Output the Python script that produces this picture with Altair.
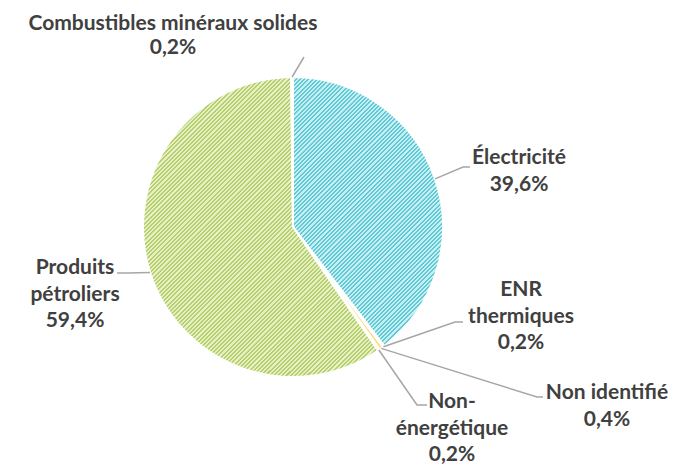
import math
import altair as alt
import pandas as pd

# ---- data -------------------------------------------------------------
categories = ["Électricité", "ENR thermiques", "Non identifié", "Non-énergétique",
              "Produits pétroliers", "Combustibles minéraux solides"]
values = [39.6, 0.2, 0.4, 0.2, 59.4, 0.2]
label_text = ["Électricité", "ENR\nthermiques", "Non identifié", "Non-\nénergétique",
              "Produits\npétroliers", "Combustibles minéraux solides"]

# ---- style / layout (page pixels) ---------------------------------------
colors = ["#93d9e2", "#f4b183", "#ffd966", "#f8cbad", "#cfe09a", "#bfbfbf"]
MARGIN, TOP = 8, 10
W, H = 668, 452
CX, CY, R = 293, 227, 150
LINE_H = 26.5
label_xy = [(519, 158), (521, 290), (607, 393), (452, 402), (75, 268), (173, 23.5)]
label_lh = [LINE_H, LINE_H, LINE_H, LINE_H, LINE_H, 24.5]
leader_pts = [
    [(463, 167), (470, 167)],
    [(455, 322), (463, 322)],
    [(537, 397), (543, 397)],
    [(417, 405), (427, 405)],
    [(127, 273), (117, 273)],
    [(304, 57)],
]

total = sum(values)
df = pd.DataFrame({"cat": categories, "value": values, "idx": range(len(values))})


def hatch(dark, light, w, h, period=4.2):
    """Diagonal (////) stripe gradient for a slice whose bounding box is w x h px."""
    s = (w + h) / (w * w + h * h)
    step = period / (w + h)
    stops = []
    o = 0.0
    while o < 1.0:
        a, b = o, min(o + step / 2, 1.0)
        c = min(o + step, 1.0)
        stops += [{"offset": a, "color": dark}, {"offset": b, "color": dark},
                  {"offset": b, "color": light}, {"offset": c, "color": light}]
        o += step
    return {"gradient": "linear", "x1": 0, "y1": 0, "x2": w * s, "y2": h * s, "stops": stops}


cum = [0.0]
for v in values:
    cum.append(cum[-1] + v)
ang = [c / total * 2 * math.pi for c in cum]
e_w = R
e_h = R + max(0.0, -R * math.cos(ang[1]))
p_w = R + R * math.sin(ang[4])
p_h = 2 * R
grad_cyan = hatch("#5ecad6", "#c8eef2", e_w, e_h)
grad_green = hatch("#b5d06a", "#e6efc6", p_w, p_h)

# leader lines: start on the pie edge at each slice's mid angle
line_rows = []
for i, c in enumerate(categories):
    mid = (ang[i] + ang[i + 1]) / 2
    pts = [(CX + R * math.sin(mid), CY - R * math.cos(mid))] + leader_pts[i]
    for k, (px, py) in enumerate(pts):
        line_rows.append({"cat": c, "k": k, "x": px, "y": py})
lines_df = pd.DataFrame(line_rows)

text_rows = []
for i, (c, v) in enumerate(zip(categories, values)):
    parts = label_text[i].split("\n") + [f"{v:.1f}%".replace(".", ",")]
    lx, ly = label_xy[i]
    for k, t in enumerate(parts):
        text_rows.append({"cat": c, "t": t, "x": lx, "y": ly + k * label_lh[i]})
text_df = pd.DataFrame(text_rows)

OX, OY = MARGIN, MARGIN + TOP
xs = alt.Scale(domain=[OX, OX + W], range=[0, W])
ys = alt.Scale(domain=[OY, OY + H], range=[0, H])

pie = alt.Chart(df).mark_arc(outerRadius=R, stroke="white", strokeWidth=2).encode(
    theta=alt.Theta("value:Q", stack=True),
    fill=alt.Fill(
        "cat:N",
        scale=alt.Scale(domain=categories, range=colors),
        legend=None,
        condition=[
            {"test": "datum.idx === 0", "value": grad_cyan},
            {"test": "datum.idx === 4", "value": grad_green},
        ],
    ),
    order=alt.Order("idx:Q"),
    x=alt.value(CX - OX),
    y=alt.value(CY - OY),
)

leaders = alt.Chart(lines_df).mark_line(color="#a6a6a6", strokeWidth=1.5).encode(
    x=alt.X("x:Q", scale=xs, axis=None),
    y=alt.Y("y:Q", scale=ys, axis=None),
    detail="cat:N",
    order="k:Q",
)

labels = alt.Chart(text_df).mark_text(
    align="center", baseline="middle", font="Lato", fontWeight="bold",
    fontSize=21, color="#404040"
).encode(
    x=alt.X("x:Q", scale=xs, axis=None),
    y=alt.Y("y:Q", scale=ys, axis=None),
    text="t:N",
)

chart = alt.layer(pie, leaders, labels).properties(
    width=W, height=H,
    padding={"left": 0, "top": TOP, "right": 0, "bottom": 0},
    autosize=alt.AutoSizeParams(type="none"),
).configure_view(stroke=None)

chart.save("out.html", embed_options={"renderer": "svg", "actions": False})
